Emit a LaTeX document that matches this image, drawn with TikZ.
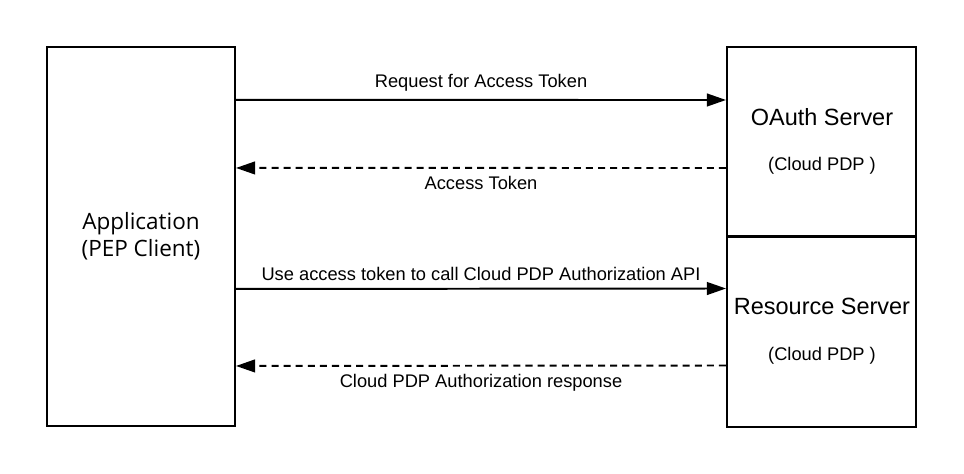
\documentclass[tikz,border=0pt]{standalone}
\usepackage{fontspec}
\setmainfont{Liberation Sans}
\newfontfamily\appfont{Open Sans}
\usetikzlibrary{arrows.meta}
\begin{document}
\begin{tikzpicture}[x=0.025cm, y=-0.025cm, line width=1.4pt,
    box/.style={draw, line width=1.4pt, inner sep=0pt},
    msg/.style={-{Triangle[length=0.48cm, width=0.32cm]}},
    reply/.style={msg, dash pattern=on 5pt off 3.6pt},
    lbl/.style={font=\fontsize{13pt}{15pt}\selectfont}]
    \useasboundingbox (0, 0) rectangle (964, 473);
    % boxes
    \node[box, minimum width=4.7cm, minimum height=9.475cm] (app) at(141, 236.5) {};
    \node[box, minimum width=4.725cm, minimum height=4.75cm] (oauth) at(821.5, 142) {};
    \node[box, minimum width=4.725cm, minimum height=4.75cm] (res) at(821.5, 331.5) {};
    \node[font=\appfont\fontsize{16pt}{19.5pt}\selectfont, align=center] (appname) at(141, 236) {Application\\(PEP Client)};
    \node[font=\fontsize{16.7pt}{19pt}\selectfont] (oauthname) at(822, 117) {OAuth Server};
    \node[lbl] (oauthpdp) at(822, 166) {(Cloud PDP )};
    \node[font=\fontsize{16.7pt}{19pt}\selectfont] (resname) at(822, 306) {Resource Server};
    \node[lbl] (respdp) at(822, 356) {(Cloud PDP )};
    % messages
    \draw[msg] ([yshift=-54*0.025cm]app.north east) -- ([yshift=-54*0.025cm]oauth.north west)
        node[lbl, midway, above=2pt] (req) {Request for Access Token};
    \draw[reply] ([yshift=-122*0.025cm]oauth.north west) -- ([yshift=-122*0.025cm]app.north east)
        node[lbl, midway, below=2pt] (tok) {Access Token};
    \draw[msg] ([yshift=-243*0.025cm]app.north east) -- ([yshift=-53*0.025cm]res.north west)
        node[lbl, midway, above=2pt] (use) {Use access token to call Cloud PDP Authorization API};
    \draw[reply] ([yshift=-130*0.025cm]res.north west) -- ([yshift=-320*0.025cm]app.north east)
        node[lbl, midway, below=2pt] (resp) {Cloud PDP Authorization response};
\end{tikzpicture}
\end{document}
